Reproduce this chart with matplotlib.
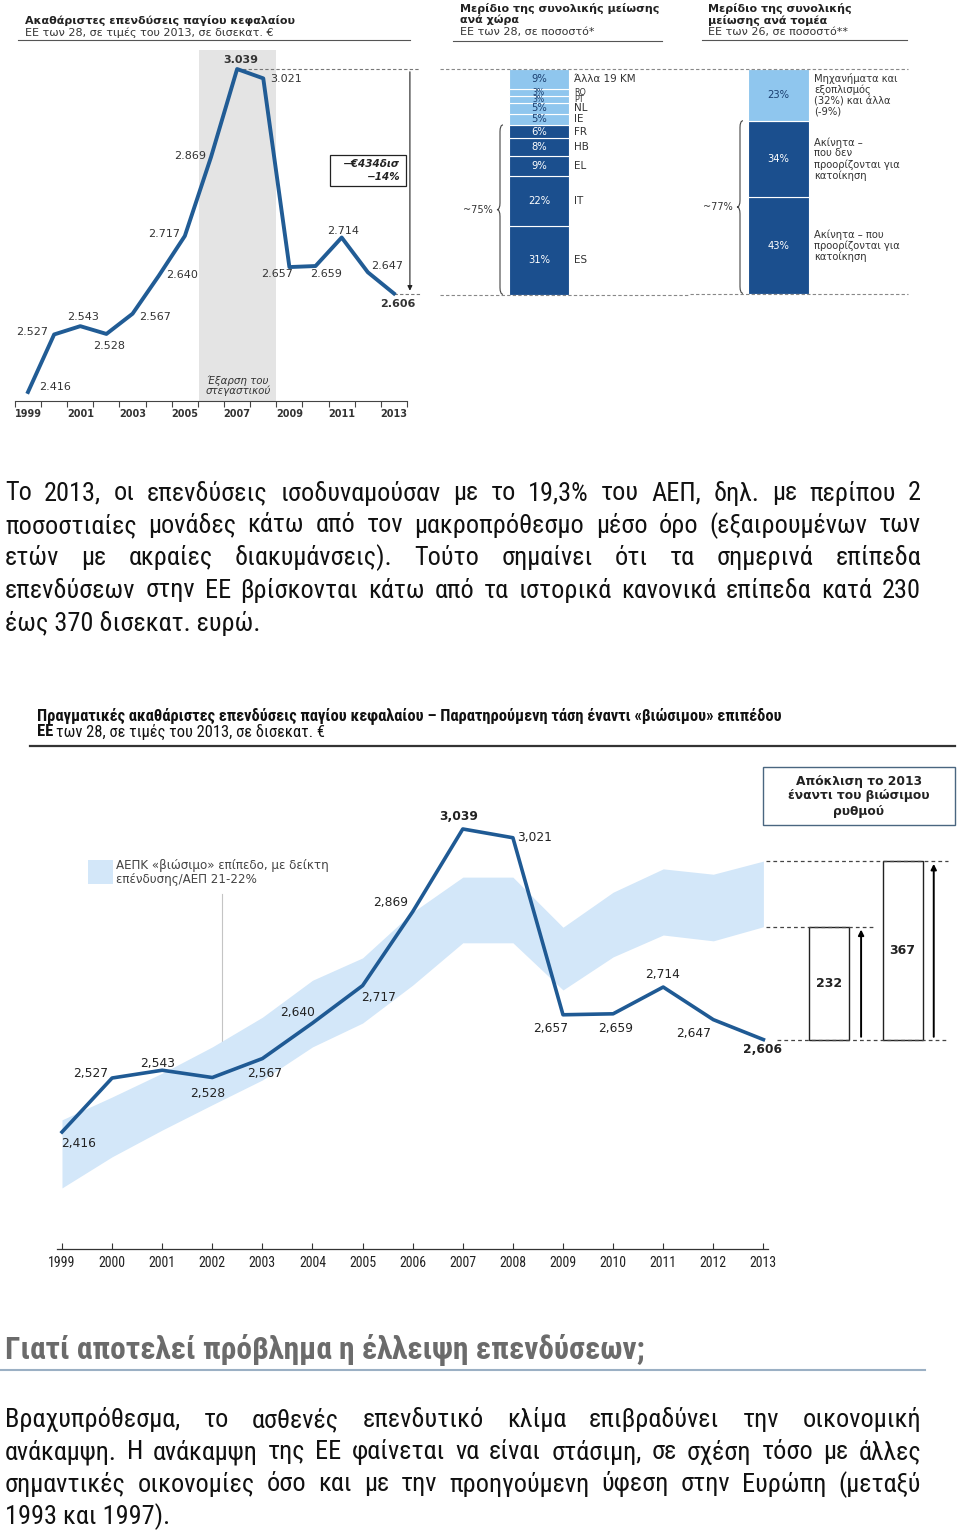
import matplotlib
matplotlib.use("Agg")
import matplotlib.pyplot as plt
import numpy as np
from matplotlib import font_manager as fm
from matplotlib.patches import Rectangle, PathPatch
from matplotlib.path import Path

# ---------------- data ----------------
years = list(range(1999, 2014))
gfcf = [2416, 2527, 2543, 2528, 2567, 2640, 2717, 2869, 3039, 3021, 2657, 2659, 2714, 2647, 2606]
band_low = [2301, 2365, 2420, 2472, 2523, 2591, 2640, 2718, 2805, 2805, 2708, 2776, 2821, 2809, 2838]
band_high = [2441, 2488, 2537, 2591, 2652, 2728, 2774, 2868, 2940, 2940, 2837, 2909, 2957, 2946, 2973]
deviation = [232, 367]
drop_text = ["\u2212\u20ac434\u03b4\u03b9\u03c3", "\u221214%"]

country_codes = ["ES", "IT", "EL", "HB", "FR", "IE", "NL", "PT", "RO", "Άλλα 19 ΚΜ"]
country_share = [31, 22, 9, 8, 6, 5, 5, 3, 3, 9]
country_big = 5  # first five are the dark block (~75%)

sector_names = ["Ακίνητα – που\nπροορίζονται για\nκατοίκηση",
                "Ακίνητα –\nπου δεν\nπροορίζονται για\nκατοίκηση",
                "Μηχανήματα και\nεξοπλισμός\n(32%) και άλλα\n(-9%)"]
sector_share = [43, 34, 23]
sector_big = 2

para1 = ["Το 2013, οι επενδύσεις ισοδυναμούσαν με το 19,3% του ΑΕΠ, δηλ. με περίπου 2",
         "ποσοστιαίες μονάδες κάτω από τον μακροπρόθεσμο μέσο όρο (εξαιρουμένων των",
         "ετών με ακραίες διακυμάνσεις). Τούτο σημαίνει ότι τα σημερινά επίπεδα",
         "επενδύσεων στην ΕΕ βρίσκονται κάτω από τα ιστορικά κανονικά επίπεδα κατά 230",
         "έως 370 δισεκατ. ευρώ."]
heading = "Γιατί αποτελεί πρόβλημα η έλλειψη επενδύσεων;"
para2 = ["Βραχυπρόθεσμα, το ασθενές επενδυτικό κλίμα επιβραδύνει την οικονομική",
         "ανάκαμψη. Η ανάκαμψη της ΕΕ φαίνεται να είναι στάσιμη, σε σχέση τόσο με άλλες",
         "σημαντικές οικονομίες όσο και με την προηγούμενη ύφεση στην Ευρώπη (μεταξύ",
         "1993 και 1997)."]

# label offsets (pixels, y up)
off_top = [(27, 5), (-22, 2), (3, 9), (3, -12), (23, -3), (23, 1), (-21, 2), (-21, 1),
           (4, 9), (23, -1), (-12, -7), (11, -8), (1, 7), (19, 6), (4, -10)]
off_bot = [(17, -11), (-21, 5), (-5, 7), (-5, -16), (2, -15), (-15, 11), (16, -12), (-22, 9),
           (-4, 12), (22, 0), (-12, -14), (3, -15), (-1, 13), (-20, -14), (-1, -10)]

DARK = "#1b4f8e"
LIGHT = "#8fc6ee"
LINE = "#1f5a94"
BAND = "#d3e7f9"


def have(name):
    try:
        fm.findfont(fm.FontProperties(family=name), fallback_to_default=False)
        return True
    except Exception:
        return False


NARROW = next((f for f in ["Liberation Sans Narrow", "Roboto Condensed", "Open Sans Condensed"] if have(f)),
              "Liberation Sans")
CHART = "DejaVu Sans"
plt.rcParams["font.family"] = [CHART]

W, H = 960, 1532
fig = plt.figure(figsize=(W / 100, H / 100), dpi=100, facecolor="white")
pg = fig.add_axes([0, 0, 1, 1])
pg.set_xlim(0, W)
pg.set_ylim(H, 0)
pg.axis("off")
R = fig.canvas.get_renderer()


def px_axes(x0, y0, x1, y1):
    ax = fig.add_axes([x0 / W, 1 - y1 / H, (x1 - x0) / W, (y1 - y0) / H])
    ax.set_facecolor("none")
    return ax


def width(t):
    return t.get_window_extent(renderer=R).width


def fit(t, w):
    t.set_fontsize(t.get_fontsize() * w / width(t))
    return t


def brace(ax, x, y0, y1, w, ry, **kw):
    ym = (y0 + y1) / 2
    xm = x + w / 2
    verts = [(x + w, y1), (xm, y1), (xm, y1 - ry), (xm, ym + ry), (xm, ym), (x, ym),
             (xm, ym), (xm, ym - ry), (xm, y0 + ry), (xm, y0), (x + w, y0)]
    codes = [Path.MOVETO, Path.CURVE3, Path.CURVE3, Path.LINETO, Path.CURVE3, Path.CURVE3,
             Path.CURVE3, Path.CURVE3, Path.LINETO, Path.CURVE3, Path.CURVE3]
    ax.add_patch(PathPatch(Path(verts, codes), fill=False, clip_on=False, **kw))


# ---------------- top-left: line chart ----------------
t = pg.text(25, 20, "Ακαθάριστες επενδύσεις παγίου κεφαλαίου", fontweight="bold", fontsize=8,
            va="center", color="#222")
fit(t, 270)
TS = t.get_fontsize()
t = pg.text(25, 33, "ΕΕ των 28, σε τιμές του 2013, σε δισεκατ. €", fontsize=TS, va="center", color="#333")
pg.plot([18, 410], [40, 40], color="#555", lw=0.8)

ax1 = px_axes(0, 45, 420, 401)
ax1.set_xlim(1999 - 28 / 26.14, 1999 + 392 / 26.14)
ax1.set_ylim(2416 - 9 * 1.929, 2416 + 347 * 1.929)
ax1.axvspan(2005.53, 2008.5, ymax=351 / 356, color="#e4e4e4", lw=0, zorder=0)
ax1.plot(years, gfcf, color="#215c95", lw=2.8, zorder=3)
for i, (yr, v) in enumerate(zip(years, gfcf)):
    bold = v == max(gfcf) or i == len(gfcf) - 1
    ax1.annotate(f"{v:,}".replace(",", "."), (yr, v), xytext=off_top[i], textcoords="offset pixels",
                 ha="center", va="center", fontsize=8, color="#333",
                 fontweight="bold" if bold else "normal")
peak = int(np.argmax(gfcf))
xr = ax1.get_xlim()[1]
ax1.plot([years[peak], xr], [gfcf[peak]] * 2, ls=(0, (3, 2)), color="#777", lw=0.8, clip_on=False)
ax1.plot([years[-1], xr], [gfcf[-1]] * 2, ls=(0, (3, 2)), color="#777", lw=0.8, clip_on=False)
ax1.annotate("", xy=(2013.61, gfcf[-1]), xytext=(2013.61, gfcf[peak]),
             arrowprops=dict(arrowstyle="-|>", color="#222", lw=0.8, mutation_scale=7))
ax1.text(2007.03, 2428, "Έξαρση του\nστεγαστικού", ha="center", va="center", fontsize=7.4,
         style="italic", color="#333", linespacing=1.0)
for s in ["top", "right", "left"]:
    ax1.spines[s].set_visible(False)
ax1.spines["bottom"].set_bounds(1998.5, 2013.5)
ax1.spines["bottom"].set_color("#444")
ax1.spines["bottom"].set_linewidth(0.8)
ax1.set_yticks([])
ax1.set_xticks(years[::2])
ax1.set_xticklabels([str(y) for y in years[::2]], fontweight="bold", color="#333")
ax1.tick_params(which="major", length=0, pad=6, labelsize=7)
ax1.set_xticks(np.arange(1998.5, 2014, 1), minor=True)
ax1.tick_params(which="minor", length=4, color="#444", width=0.8)

pg.add_patch(Rectangle((330, 155), 76, 31, fill=True, facecolor="white", edgecolor="#222", lw=0.9, zorder=5))
for k, s in enumerate(drop_text):
    pg.text(400, 164 + 13 * k, s, ha="right", va="center", fontsize=7.5, fontweight="bold",
            style="italic", color="#222", zorder=6)

# ---------------- top-middle: share by country ----------------
for k, s in enumerate(["Μερίδιο της συνολικής μείωσης", "ανά χώρα"]):
    pg.text(460, 9 + 11 * k, s, fontweight="bold", fontsize=TS, va="center", color="#222")
pg.text(460, 32, "ΕΕ των 28, σε ποσοστό*", fontsize=TS, va="center", color="#333")
pg.plot([453, 662], [41, 41], color="#555", lw=0.8)

ax2 = px_axes(440, 69, 690, 295)
tot2 = sum(country_share)
ax2.set_xlim(440, 690)
ax2.set_ylim(0, tot2)
ax2.axis("off")
bot2 = np.concatenate([[0], np.cumsum(country_share)[:-1]])
col2 = [DARK] * country_big + [LIGHT] * (len(country_share) - country_big)
ax2.bar([539] * len(country_share), country_share, width=60, bottom=bot2, color=col2,
        edgecolor="white", linewidth=0.8)
for k, (c, v, b) in enumerate(zip(country_codes, country_share, bot2)):
    fs = 7.2 if v >= 4 else 5.6
    ax2.text(539, b + v / 2, f"{v}%", ha="center", va="center", fontsize=fs,
             color="white" if k < country_big else "#1b3f70")
    ax2.text(574, b + v / 2, c, ha="left", va="center", fontsize=fs + 0.3, color="#333")
for yv in [0, tot2]:
    ax2.plot([440, 690], [yv, yv], ls=(0, (3, 2)), color="#888", lw=0.8, clip_on=False)
big2 = sum(country_share[:country_big])
brace(ax2, 497, 0.3, big2, 6, 3, color="#444", lw=0.8)
ax2.text(493, big2 / 2, "~75%", ha="right", va="center", fontsize=7, color="#333")

# ---------------- top-right: share by sector ----------------
for k, s in enumerate(["Μερίδιο της συνολικής", "μείωσης ανά τομέα"]):
    pg.text(708, 9 + 11 * k, s, fontweight="bold", fontsize=TS, va="center", color="#222")
pg.text(708, 32, "ΕΕ των 26, σε ποσοστό**", fontsize=TS, va="center", color="#333")
pg.plot([702, 907], [40, 40], color="#555", lw=0.8)

ax4 = px_axes(690, 69, 910, 294)
tot4 = sum(sector_share)
ax4.set_xlim(690, 910)
ax4.set_ylim(0, tot4)
ax4.axis("off")
bot4 = np.concatenate([[0], np.cumsum(sector_share)[:-1]])
col4 = [DARK] * sector_big + [LIGHT] * (len(sector_share) - sector_big)
ax4.bar([778] * len(sector_share), sector_share, width=61, bottom=bot4, color=col4,
        edgecolor="white", linewidth=0.8)
for k, (n, v, b) in enumerate(zip(sector_names, sector_share, bot4)):
    ax4.text(778, b + v / 2, f"{v}%", ha="center", va="center", fontsize=7.2,
             color="white" if k < sector_big else "#1b3f70")
    ax4.text(814, b + v / 2, n, ha="left", va="center", fontsize=7.2, color="#333", linespacing=1.1)
for yv in [0, tot4]:
    ax4.plot([690, 908], [yv, yv], ls=(0, (3, 2)), color="#888", lw=0.8, clip_on=False)
big4 = sum(sector_share[:sector_big])
brace(ax4, 737, 0.3, big4, 6, 3, color="#444", lw=0.8)
ax4.text(733, big4 / 2, "~77%", ha="right", va="center", fontsize=7, color="#333")


# ---------------- paragraphs ----------------
def justify(lines, y0, dy, size, x0=5, x1=921, **kw):
    for i, line in enumerate(lines):
        y = y0 + i * dy
        if i == len(lines) - 1:
            pg.text(x0, y, line, fontsize=size, va="center", **kw)
            continue
        ts = [pg.text(0, y, w, fontsize=size, va="center", **kw) for w in line.split(" ")]
        ws = [width(tt) for tt in ts]
        gap = (x1 - x0 - sum(ws)) / (len(ws) - 1)
        x = x0
        for tt, w in zip(ts, ws):
            tt.set_x(x)
            x += w + gap


body = dict(family=[NARROW, "DejaVu Sans"], color="#111")
probe = pg.text(0, -100, para1[-1], fontsize=20, **body)
size1 = 20 * 256 / width(probe)
probe.remove()
justify(para1, 493, 32.5, size1, **body)

h = pg.text(5, 1350, heading, fontsize=20, fontweight="bold", va="center",
            family=[NARROW, "DejaVu Sans"], color="#6b6b6b")
fit(h, 641)
pg.plot([0, 925], [1370, 1370], color="#9bb0c4", lw=1.5)
justify(para2, 1420, 32.2, size1, **body)

# ---------------- bottom: line vs sustainable band ----------------
t = pg.text(37, 716, "Πραγματικές ακαθάριστες επενδύσεις παγίου κεφαλαίου – Παρατηρούμενη τάση έναντι «βιώσιμου» επιπέδου",
            fontsize=10, fontweight="bold", va="center", family=[NARROW, "DejaVu Sans"], color="#111")
fit(t, 749)
t1 = pg.text(37, 732, "ΕΕ", fontsize=t.get_fontsize(), fontweight="bold", va="center",
             family=[NARROW, "DejaVu Sans"], color="#111")
pg.text(37 + width(t1) + 3, 732, "των 28, σε τιμές του 2013, σε δισεκατ. €", fontsize=t.get_fontsize(),
        va="center", family=[NARROW, "DejaVu Sans"], color="#111")
pg.plot([30, 955], [746, 746], color="#333", lw=1.6)

ax3 = px_axes(30, 755, 955, 1249)
ax3.set_xlim(1999 - 32 / 50.1, 1999 + 893 / 50.1)
ax3.set_ylim(2416 - 117 * 2.056, 2416 + 377 * 2.056)
ax3.fill_between(years, band_low, band_high, color=BAND, lw=0, zorder=1)
ax3.plot(years, gfcf, color=LINE, lw=2.6, zorder=3)
for i, (yr, v) in enumerate(zip(years, gfcf)):
    bold = v == max(gfcf) or i == len(gfcf) - 1
    ax3.annotate(f"{v:,}", (yr, v), xytext=off_bot[i], textcoords="offset pixels",
                 ha="center", va="center", fontsize=8.8, color="#222",
                 fontweight="bold" if bold else "normal")
xp = 2002.2
ax3.plot([xp, xp], [np.interp(xp, years, band_high), 2905], color="#c4c4c4", lw=0.8, zorder=0)

base = gfcf[-1]
bar_x = [2014.31, 2015.78]
arr_x = [2014.95, 2016.40]
ax3.bar(bar_x, deviation, width=0.8, bottom=base, facecolor="white", edgecolor="#222", lw=1.0, zorder=2)
for bx, ax_, d in zip(bar_x, arr_x, deviation):
    ax3.text(bx, base + d / 2, str(d), ha="center", va="center", fontsize=9, fontweight="bold", color="#222")
    ax3.annotate("", xy=(ax_, base + d), xytext=(ax_, base),
                 arrowprops=dict(arrowstyle="-|>", color="black", lw=1.4, mutation_scale=8))
dash = dict(ls=(0, (3, 2.5)), color="#444", lw=0.9)
ax3.plot([2013.05, 2016.68], [base + deviation[1]] * 2, **dash)
ax3.plot([2013.05, 2015.19], [base + deviation[0]] * 2, **dash)
ax3.plot([2013.28, 2016.68], [base] * 2, **dash)

for s in ["top", "right", "left"]:
    ax3.spines[s].set_visible(False)
ax3.spines["bottom"].set_bounds(1998.9, 2013.1)
ax3.spines["bottom"].set_color("#333")
ax3.spines["bottom"].set_linewidth(0.9)
ax3.set_yticks([])
ax3.set_xticks(years)
ax3.set_xticklabels([str(y) for y in years], family=[NARROW, "DejaVu Sans"], color="#222")
ax3.tick_params(axis="x", direction="in", length=4, width=0.8, color="#333", pad=5, labelsize=10)

pg.add_patch(Rectangle((88, 860), 25, 24, color=BAND, lw=0))
pg.text(116, 865, "ΑΕΠΚ «βιώσιμο» επίπεδο, με δείκτη", fontsize=8.6, va="center", color="#444")
pg.text(116, 880, "επένδυσης/ΑΕΠ 21-22%", fontsize=8.6, va="center", color="#444")

pg.add_patch(Rectangle((763, 767), 192, 58, fill=False, edgecolor="#4a6680", lw=1.0))
for k, s in enumerate(["Απόκλιση το 2013", "έναντι του βιώσιμου", "ρυθμού"]):
    pg.text(859, 781 + 15 * k, s, ha="center", va="center", fontsize=8.8, fontweight="bold", color="#222")

fig.savefig("out.png", dpi=100, facecolor="white")
